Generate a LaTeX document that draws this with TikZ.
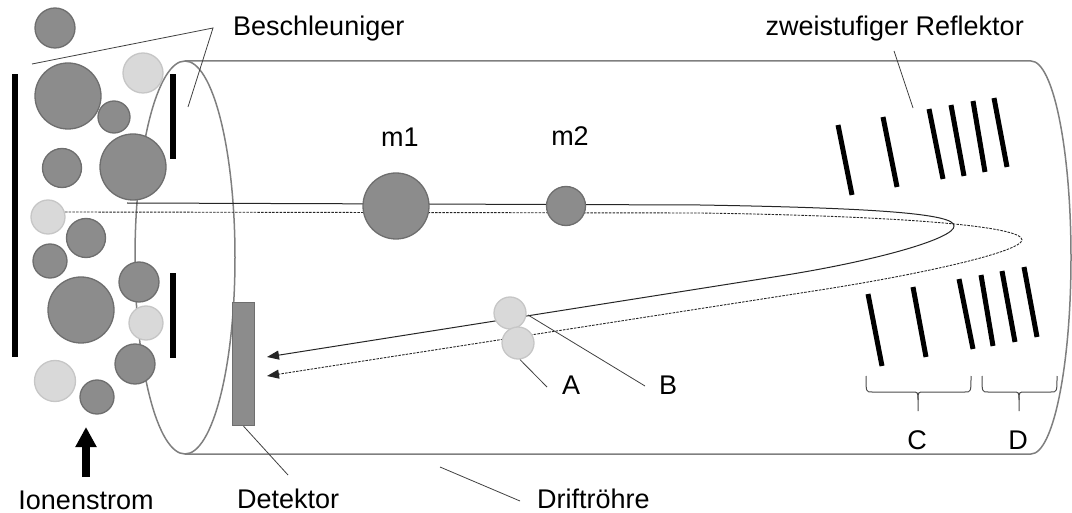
\documentclass[tikz,border=0pt]{standalone}
\usepackage{fontspec}
\setmainfont{Liberation Sans}
\usetikzlibrary{arrows.meta}
\definecolor{ionDark}{HTML}{8C8C8C}
\definecolor{ionDarkEdge}{HTML}{6E6E6E}
\definecolor{ionLight}{HTML}{D9D9D9}
\definecolor{ionLightEdge}{HTML}{C6C6C6}
\definecolor{tubeGray}{HTML}{7F7F7F}
\definecolor{leaderGray}{HTML}{404040}

\begin{document}
\begin{tikzpicture}[x=1pt,y=-1pt,
  ion/.style={circle, inner sep=0pt, minimum size=#1, line width=1.3pt},
  dark/.style={ion=#1, fill=ionDark, draw=ionDarkEdge},
  light/.style={ion=#1, fill=ionLight, draw=ionLightEdge},
  tube/.style={draw=tubeGray, line width=1.5pt},
  plate/.style={line width=5pt, black},
  solidpath/.style={draw=black!85, line width=1pt, -{Triangle[length=12pt,width=9pt]}},
  dashpath/.style={draw=black!85, line width=0.9pt, dash pattern=on 2.5pt off 1.2pt, -{Triangle[length=12pt,width=9pt]}},
  leader/.style={draw=leaderGray, line width=0.8pt},
  brace/.style={draw=black!70, line width=1pt},
  lbl/.style={font=\fontsize{27}{32}\selectfont, inner sep=0pt},
]
\useasboundingbox (0,0) rectangle (1072,513);

% drift tube: top and bottom edges, closed rear end, open front ellipse
\draw[tube] (185,61) -- (1031,61)
  arc[start angle=-90, end angle=90, x radius=40, y radius=196.5] -- (185,454);
\draw[tube] (185,257.5) ellipse[x radius=50, y radius=196.5];

% flight paths of the two ion packets through the two-stage reflector
\coordinate (sStart) at (127,203);
\coordinate (sTip) at (954,226);
\coordinate (sEnd) at (267,357);
\coordinate (dStart) at (65,212);
\coordinate (dTip) at (1022,240);
\coordinate (dEnd) at (267,376);
\draw[solidpath] (sStart) -- (700,205) .. controls (880,208) and (955,214) .. (sTip)
  .. controls (955,238) and (880,260.2) .. (780,276) -- (sEnd);
\draw[dashpath] (dStart) -- (700,213) .. controls (900,216) and (1023,226) .. (dTip)
  .. controls (1021,252) and (920,274.4) .. (820,290) -- (dEnd);

% ion source cloud
\node[dark=40pt]  (i1)  at (55,28)   {};
\node[dark=66pt]  (i2)  at (68,96)   {};
\node[light=40pt] (i3)  at (143,73)  {};
\node[dark=32pt]  (i4)  at (114,117) {};
\node[dark=39pt]  (i5)  at (62,168)  {};
\node[dark=66pt]  (i6)  at (133,167) {};
\node[light=34pt] (i7)  at (48,217)  {};
\node[dark=39pt]  (i8)  at (86,238)  {};
\node[dark=34pt]  (i9)  at (50,261)  {};
\node[dark=40pt]  (i10) at (139,282) {};
\node[dark=66pt]  (i11) at (81,310)  {};
\node[light=34pt] (i12) at (146,323) {};
\node[dark=40pt]  (i13) at (135,364) {};
\node[light=41pt] (i14) at (55,381)  {};
\node[dark=34pt]  (i15) at (97,397)  {};

% ions in flight
\node[dark=66pt]  (m1) at (396,206) {};
\node[dark=39pt]  (m2) at (566,206) {};
\node[light=32pt] (ionB) at (510,313) {};
\node[light=32pt] (ionA) at (518,343) {};

% repeller and accelerator electrodes
\fill (12,74) rectangle (18,357);
\fill (170,74) rectangle (176,159);
\fill (170,273) rectangle (176,358);

% reflector grids, upper row
\draw[plate] (838,125) -- (852,195);
\draw[plate] (883,117) -- (897,187);
\draw[plate] (929,109) -- (943,179);
\draw[plate] (951,105) -- (964,176);
\draw[plate] (973,101) -- (985,172);
\draw[plate] (994,98)  -- (1007,167);
% reflector grids, lower row
\draw[plate] (868,294) -- (882,366);
\draw[plate] (913,287) -- (926,357);
\draw[plate] (959,279) -- (973,349);
\draw[plate] (981,275) -- (993,346);
\draw[plate] (1002,271) -- (1015,342);
\draw[plate] (1024,267) -- (1037,337);

% detector
\node[draw=ionDarkEdge, fill=ionDark, line width=1.3pt, minimum width=22pt,
      minimum height=123pt, inner sep=0pt] (det) at (243.5,364) {};

% ion stream arrow
\coordinate (streamFoot) at (86,477);
\coordinate (streamHead) at (86,427);
\draw[line width=8pt, -{Triangle[length=20pt,width=20pt]}] (streamFoot) -- (streamHead);

% braces for the two reflector stages
\coordinate (bC) at (918,411);
\coordinate (bD) at (1019,411);
\draw[brace] (866,376) .. controls (866,392) .. (872,392) -- (912,392)
  .. controls (918,392) .. (918,400) -- (bC);
\draw[brace] (918,400) .. controls (918,392) .. (924,392) -- (965,392)
  .. controls (971,392) .. (971,376);
\draw[brace] (982,376) .. controls (982,392) .. (988,392) -- (1013,392)
  .. controls (1019,392) .. (1019,400) -- (bD);
\draw[brace] (1019,400) .. controls (1019,392) .. (1025,392) -- (1051,392)
  .. controls (1057,392) .. (1057,376);

% labels
\node[lbl, anchor=base west] (tAcc) at (233,36) {Beschleuniger};
\node[lbl, anchor=base east] (tRefl) at (1024,36) {zweistufiger Reflektor};
\node[lbl, anchor=base] (tm1) at (400,147) {m1};
\node[lbl, anchor=base] (tm2) at (570,146) {m2};
\node[lbl, anchor=base] (tA) at (571,395) {A};
\node[lbl, anchor=base] (tB) at (668,395) {B};
\node[lbl, anchor=base] (tC) at (917,449) {C};
\node[lbl, anchor=base] (tD) at (1018,449) {D};
\node[lbl, anchor=base] (tIon) at (86,509) {Ionenstrom};
\node[lbl, anchor=base west] (tDet) at (237,508) {Detektor};
\node[lbl, anchor=base west] (tDrift) at (537,508) {Driftröhre};

% leader lines
\coordinate (accFork) at (213,28);
\coordinate (accL) at (32,64);
\coordinate (accR) at (188,107);
\draw[leader] (accL) -- (accFork) -- (accR);
\coordinate (reflTop) at (894,51);
\coordinate (reflBot) at (913,108);
\draw[leader] (reflTop) -- (reflBot);
\coordinate (aEnd) at (547,387);
\draw[leader] (ionA.south) ++(2,0) coordinate (aStart) -- (aEnd);
\coordinate (bEnd) at (645,386);
\coordinate (bStart) at (528,315);
\draw[leader] (bStart) -- (bEnd);
\coordinate (detEnd) at (288,475);
\draw[leader] (det.south) -- (detEnd);
\coordinate (driftA) at (440,467);
\coordinate (driftB) at (520,501);
\draw[leader] (driftA) -- (driftB);
\end{tikzpicture}
\end{document}
